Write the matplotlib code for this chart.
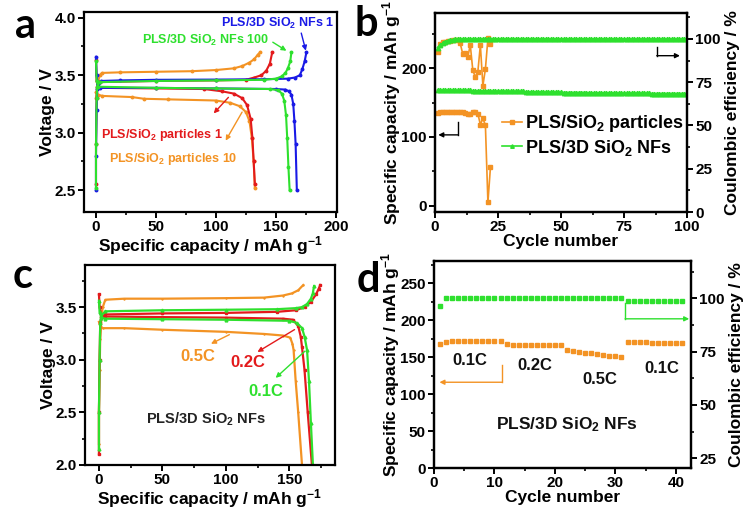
import matplotlib
matplotlib.use("Agg")
import matplotlib.pyplot as plt
from matplotlib.ticker import MultipleLocator

plt.rcParams['font.family'] = ['Liberation Sans', 'DejaVu Sans']
plt.rcParams['font.weight'] = 'bold'
plt.rcParams['axes.labelweight'] = 'bold'
plt.rcParams['mathtext.fontset'] = 'custom'
plt.rcParams['mathtext.rm'] = 'Liberation Sans:bold'
plt.rcParams['mathtext.bf'] = 'Liberation Sans:bold'
plt.rcParams['mathtext.it'] = 'Liberation Sans:bold'
plt.rcParams['mathtext.default'] = 'bf'

ORANGE = '#F39324'
GREEN = '#2EE02E'
RED = '#E31A1C'
BLUE = '#1A1AE6'

# ---------------- Panel a data ----------------
a_blue_ch_x = [0, 0, 0.5, 1, 2, 4, 20, 50, 100, 140, 160, 166, 170, 172, 174, 175.5]
a_blue_ch_y = [2.5, 2.8, 3.2, 3.38, 3.42, 3.45, 3.455, 3.46, 3.462, 3.465, 3.47, 3.48, 3.5, 3.55, 3.62, 3.7]
a_blue_dis_x = [0, 0.5, 1.5, 3, 50, 100, 150, 158, 161, 163, 164.5, 165.5, 166.5, 167.5]
a_blue_dis_y = [3.66, 3.5, 3.42, 3.39, 3.39, 3.385, 3.38, 3.375, 3.36, 3.33, 3.25, 3.1, 2.9, 2.5]
a_green_ch_x = [0, 0, 0.5, 1, 3, 50, 100, 140, 150, 155, 158, 160, 162, 163]
a_green_ch_y = [2.52, 2.9, 3.3, 3.4, 3.44, 3.45, 3.455, 3.46, 3.47, 3.49, 3.52, 3.56, 3.62, 3.7]
a_green_dis_x = [0, 0.5, 2, 50, 100, 145, 152, 155, 157, 158.5, 159.5, 160.5, 161.5]
a_green_dis_y = [3.62, 3.45, 3.4, 3.39, 3.385, 3.38, 3.37, 3.34, 3.28, 3.15, 2.95, 2.7, 2.5]
a_red_ch_x = [0, 0, 0.5, 1, 3, 50, 100, 125, 132, 138, 142, 145, 147]
a_red_ch_y = [2.55, 2.9, 3.3, 3.4, 3.44, 3.45, 3.455, 3.46, 3.48, 3.5, 3.54, 3.6, 3.7]
a_red_dis_x = [0, 0.5, 2, 50, 90, 105, 115, 122, 126, 129, 130.5, 131.5, 132.5]
a_red_dis_y = [3.63, 3.45, 3.39, 3.385, 3.38, 3.36, 3.34, 3.3, 3.24, 3.12, 2.95, 2.75, 2.55]
a_orange_ch_x = [0, 1, 2, 3, 5, 20, 50, 80, 100, 115, 122, 128, 132, 135, 137]
a_orange_ch_y = [3.3, 3.38, 3.45, 3.5, 3.52, 3.525, 3.53, 3.535, 3.545, 3.56, 3.58, 3.61, 3.64, 3.68, 3.7]
a_orange_dis_x = [0, 2, 5, 30, 40, 60, 100, 112, 120, 125, 128, 130, 131.5, 132.5]
a_orange_dis_y = [3.35, 3.33, 3.32, 3.31, 3.295, 3.29, 3.28, 3.26, 3.23, 3.18, 3.1, 2.95, 2.75, 2.52]

# ---------------- Panel b data ----------------
b_part_cycles = list(range(1, 23))
b_part_cap = [135, 136, 136, 136, 136, 136, 136, 136, 136, 136,
              136, 135, 133, 133, 136, 136, 134, 118, 127, 117, 5, 56]
b_part_ce = [92.5, 97, 98, 98.5, 99, 99, 99.5, 99.5, 99.5, 97.5,
             91.4, 92.1, 89.5, 96.5, 82, 78, 81, 96.5, 73, 82.6, 100.3, 96.9]
b_nfs_cycles = list(range(1, 101))
b_nfs_cap = [168, 168, 168, 168, 168, 168, 168, 167.5, 167.5, 168,
             167.5, 167.5, 167.5, 167.5, 167, 167, 167, 167, 167, 167,
             167, 166.5, 166.5, 166.5, 166.5, 166.5, 166.5, 166, 166, 166,
             166, 166, 166, 166, 166, 165.5, 165.5, 165.5, 165.5, 165.5,
             165.5, 165.5, 165, 165, 165, 165, 165, 165, 165, 165,
             164.5, 164.5, 164.5, 164.5, 164.5, 164.5, 164.5, 164.5, 164.5, 164.5,
             164, 164, 164, 164, 164, 164, 164, 164, 164, 164,
             164, 164, 163.5, 163.5, 163.5, 163.5, 163.5, 163.5, 163.5, 163.5,
             163.5, 163.5, 163.5, 163.5, 163.5, 163, 163, 163, 163, 163,
             163, 163, 163, 163, 163, 163, 163, 163, 163, 163]
b_nfs_ce = [95, 96.5, 97.5, 98.5, 99, 99.3, 99.5, 99.7, 99.8, 99.9] + [100] * 90

# ---------------- Panel c data ----------------
c_green_ch_x = [0, 0, 0.5, 1, 2, 5, 50, 100, 140, 155, 160, 164, 167, 168.5, 169.5]
c_green_ch_y = [2.15, 2.5, 3.0, 3.35, 3.42, 3.46, 3.47, 3.475, 3.48, 3.49, 3.5, 3.53, 3.58, 3.63, 3.7]
c_green_dis_x = [0, 0.5, 2, 5, 50, 100, 150, 156, 160, 162, 164, 165.5, 167, 168.6]
c_green_dis_y = [3.56, 3.45, 3.4, 3.39, 3.385, 3.38, 3.37, 3.35, 3.3, 3.22, 3.09, 2.8, 2.4, 2.0]
c_red_ch_x = [0, 0, 0.5, 1, 2, 5, 50, 100, 140, 155, 162, 167, 171, 173, 174.4]
c_red_ch_y = [2.1, 2.5, 3.0, 3.35, 3.4, 3.43, 3.44, 3.445, 3.455, 3.47, 3.5, 3.55, 3.62, 3.67, 3.71]
c_red_dis_x = [0, 0.5, 2, 5, 50, 100, 145, 153, 157, 159, 160, 162, 164.5, 167.8]
c_red_dis_y = [3.62, 3.5, 3.42, 3.41, 3.405, 3.4, 3.39, 3.38, 3.32, 3.22, 3.12, 2.9, 2.5, 2.0]
c_orange_ch_x = [0, 0, 0.5, 1, 2, 3, 5, 20, 50, 100, 130, 145, 152, 157, 161]
c_orange_ch_y = [2.2, 2.5, 2.9, 3.2, 3.4, 3.5, 3.57, 3.58, 3.58, 3.585, 3.59, 3.61, 3.63, 3.66, 3.71]
c_orange_dis_x = [0, 1, 3, 20, 50, 100, 130, 145, 150.7, 152.5, 153.4, 155, 157, 160]
c_orange_dis_y = [3.36, 3.32, 3.3, 3.3, 3.285, 3.265, 3.245, 3.23, 3.21, 3.15, 3.09, 2.8, 2.5, 2.0]

# ---------------- Panel d data ----------------
d_cycles = list(range(1, 42))
d_cap = [167.5, 170, 172, 172, 172, 172, 172, 172, 172, 172, 172,
         168, 167, 167, 167, 167, 167, 166, 166, 166, 166,
         159, 158, 157, 156, 155, 154, 153, 152, 151, 150,
         170, 170, 170, 170, 169, 169, 169, 169, 169, 169]
d_ce = [96.5] + [100] * 30 + [98.8] * 10

d_rate_labels = ['0.1C', '0.2C', '0.5C', '0.1C']

W, H = 747, 512
fig = plt.figure(figsize=(W / 100, H / 100), dpi=100)
all_axes = []


def add_ax(l, r, t, b):
    return fig.add_axes([l / W, 1 - b / H, (r - l) / W, (b - t) / H])


def style(ax):
    for s in ax.spines.values():
        s.set_linewidth(1.6)
    ax.tick_params(which='major', direction='out', length=4, width=1.4, labelsize=11, pad=2)
    ax.tick_params(which='minor', direction='out', length=2.5, width=1.2)
    all_axes.append(ax)


TL = 12.5  # axis label size

# ---------------- Panel a ----------------
ax = add_ax(84, 337, 12, 212)
style(ax)
for xs, ys, c in [(a_orange_ch_x, a_orange_ch_y, ORANGE), (a_orange_dis_x, a_orange_dis_y, ORANGE),
                  (a_red_ch_x, a_red_ch_y, RED), (a_red_dis_x, a_red_dis_y, RED),
                  (a_blue_ch_x, a_blue_ch_y, BLUE), (a_blue_dis_x, a_blue_dis_y, BLUE),
                  (a_green_ch_x, a_green_ch_y, GREEN), (a_green_dis_x, a_green_dis_y, GREEN)]:
    ax.plot(xs, ys, '-', color=c, lw=1.5, marker='o', ms=1.8)
ax.set_xlim(-10, 201)
ax.set_ylim(2.31, 4.05)
ax.xaxis.set_major_locator(MultipleLocator(50))
ax.xaxis.set_minor_locator(MultipleLocator(25))
ax.yaxis.set_major_locator(MultipleLocator(0.5))
ax.yaxis.set_minor_locator(MultipleLocator(0.25))
ax.yaxis.set_major_formatter(matplotlib.ticker.FormatStrFormatter('%.1f'))
ax.set_xlabel('Specific capacity / mAh g$^{-1}$', fontsize=TL, labelpad=0)
ax.set_ylabel('Voltage / V', fontsize=TL, labelpad=-0.5)
fs = 9
ax.text(151.8, 3.953, 'PLS/3D SiO$_2$ NFs 1', color=BLUE, fontsize=fs, ha='center', va='center')
ax.annotate('', xy=(175.6, 3.69), xytext=(170.6, 3.89),
            arrowprops=dict(arrowstyle='-|>', color=BLUE, lw=1, mutation_scale=7))
ax.text(91, 3.80, 'PLS/3D SiO$_2$ NFs 100', color=GREEN, fontsize=fs, ha='center', va='center')
ax.annotate('', xy=(160.8, 3.70), xytext=(145.5, 3.80),
            arrowprops=dict(arrowstyle='-|>', color=GREEN, lw=1, mutation_scale=7))
ax.text(54.7, 2.98, 'PLS/SiO$_2$ particles 1', color=RED, fontsize=fs, ha='center', va='center')
ax.annotate('', xy=(96.6, 3.15), xytext=(112, 3.325),
            arrowprops=dict(arrowstyle='-|>', color=RED, lw=1, mutation_scale=7))
ax.text(64.5, 2.77, 'PLS/SiO$_2$ particles 10', color=ORANGE, fontsize=fs, ha='center', va='center')
ax.annotate('', xy=(107, 2.91), xytext=(123, 3.2),
            arrowprops=dict(arrowstyle='-|>', color=ORANGE, lw=1, mutation_scale=7))

# ---------------- Panel b ----------------
ax = add_ax(435, 687, 13, 212)
style(ax)
ax2 = ax.twinx()
style(ax2)
l1, = ax.plot(b_part_cycles, b_part_cap, '-', color=ORANGE, lw=1.2, marker='s', ms=3.2)
l2, = ax.plot(b_nfs_cycles, b_nfs_cap, '-', color=GREEN, lw=1.2, marker='^', ms=3.2)
ax2.plot(b_part_cycles, b_part_ce, '-', color=ORANGE, lw=1.2, marker='s', ms=3.2)
ax2.plot(b_nfs_cycles, b_nfs_ce, '-', color=GREEN, lw=1.2, marker='^', ms=3.2)
ax.set_xlim(0, 100)
ax.set_ylim(-9, 280)
ax2.set_ylim(0, 115)
ax.xaxis.set_major_locator(MultipleLocator(25))
ax.xaxis.set_minor_locator(MultipleLocator(12.5))
ax.yaxis.set_major_locator(MultipleLocator(100))
ax.yaxis.set_minor_locator(MultipleLocator(50))
ax2.yaxis.set_major_locator(MultipleLocator(25))
ax2.yaxis.set_minor_locator(MultipleLocator(12.5))
ax.set_xlabel('Cycle number', fontsize=TL, labelpad=0)
ax.set_ylabel('Specific capacity / mAh g$^{-1}$', fontsize=TL, labelpad=-1)
ax2.set_ylabel('Coulombic efficiency / %', fontsize=TL, labelpad=3)
ax.legend([l1, l2], ['PLS/SiO$_2$ particles', 'PLS/3D SiO$_2$ NFs'], loc='upper left',
          bbox_to_anchor=(502 / W, 1 - 113 / H), bbox_transform=fig.transFigure,
          frameon=False, fontsize=13, handlelength=1.1, handletextpad=0.2,
          labelspacing=0.2, borderaxespad=0, borderpad=0, markerscale=0.8)
ax.plot([9.25, 9.25], [121, 103], color='black', lw=1)
ax.annotate('', xy=(1.3, 103), xytext=(9.25, 103),
            arrowprops=dict(arrowstyle='-|>', color='black', lw=1, mutation_scale=7,
                            shrinkA=0, shrinkB=0))
ax.plot([88, 88], [231, 218], color='black', lw=1)
ax.annotate('', xy=(97.2, 218), xytext=(88, 218),
            arrowprops=dict(arrowstyle='-|>', color='black', lw=1, mutation_scale=7,
                            shrinkA=0, shrinkB=0))

# ---------------- Panel c ----------------
ax = add_ax(85, 335, 265, 465)
style(ax)
for xs, ys, c, m in [(c_orange_ch_x, c_orange_ch_y, ORANGE, '+'), (c_orange_dis_x, c_orange_dis_y, ORANGE, '+'),
                     (c_red_ch_x, c_red_ch_y, RED, 's'), (c_red_dis_x, c_red_dis_y, RED, 's'),
                     (c_green_ch_x, c_green_ch_y, GREEN, '^'), (c_green_dis_x, c_green_dis_y, GREEN, '^')]:
    ax.plot(xs, ys, '-', color=c, lw=1.6, marker=m, ms=2)
ax.set_xlim(-11, 186)
ax.set_ylim(2.0, 3.9)
ax.xaxis.set_major_locator(MultipleLocator(50))
ax.xaxis.set_minor_locator(MultipleLocator(25))
ax.yaxis.set_major_locator(MultipleLocator(0.5))
ax.yaxis.set_minor_locator(MultipleLocator(0.25))
ax.yaxis.set_major_formatter(matplotlib.ticker.FormatStrFormatter('%.1f'))
ax.set_xlabel('Specific capacity / mAh g$^{-1}$', fontsize=TL, labelpad=0)
ax.set_ylabel('Voltage / V', fontsize=TL, labelpad=-0.5)
ax.text(77.7, 3.03, '0.5C', color=ORANGE, fontsize=12, ha='center', va='center')
ax.annotate('', xy=(86.3, 3.14), xytext=(104.7, 3.25),
            arrowprops=dict(arrowstyle='-|>', color=ORANGE, lw=1, mutation_scale=7))
ax.text(117, 2.97, '0.2C', color=RED, fontsize=12, ha='center', va='center')
ax.annotate('', xy=(123, 3.06), xytext=(156, 3.3),
            arrowprops=dict(arrowstyle='-|>', color=RED, lw=1, mutation_scale=7))
ax.text(131.7, 2.70, '0.1C', color=GREEN, fontsize=12, ha='center', va='center')
ax.annotate('', xy=(137.6, 2.81), xytext=(164, 3.1),
            arrowprops=dict(arrowstyle='-|>', color=GREEN, lw=1, mutation_scale=7))
ax.text(84, 2.43, 'PLS/3D SiO$_2$ NFs', color='#222222', fontsize=10.5, ha='center', va='center')

# ---------------- Panel d ----------------
ax = add_ax(434, 691, 261, 468)
style(ax)
ax2 = ax.twinx()
style(ax2)
ax.plot(d_cycles, d_cap, 's', color=ORANGE, ms=3.4, ls='none')
ax2.plot(d_cycles, d_ce, 's', color=GREEN, ms=3.4, ls='none')
ax.set_xlim(0, 42.5)
ax.set_ylim(0, 280)
ax2.set_ylim(20.4, 117.5)
ax.xaxis.set_major_locator(MultipleLocator(10))
ax.xaxis.set_minor_locator(MultipleLocator(5))
ax.yaxis.set_major_locator(MultipleLocator(50))
ax.yaxis.set_minor_locator(MultipleLocator(25))
ax2.yaxis.set_major_locator(MultipleLocator(25))
ax2.yaxis.set_minor_locator(MultipleLocator(12.5))
ax.set_xlabel('Cycle number', fontsize=TL, labelpad=0)
ax.set_ylabel('Specific capacity / mAh g$^{-1}$', fontsize=TL, labelpad=-1)
ax2.set_ylabel('Coulombic efficiency / %', fontsize=TL, labelpad=3)
for (x, y), lab in zip([(6, 145), (16.7, 138), (27.4, 120), (37.7, 134)], d_rate_labels):
    ax.text(x, y, lab, fontsize=12, ha='center', va='center', color='#111111')
ax.text(22, 58, 'PLS/3D SiO$_2$ NFs', fontsize=12.5, ha='center', va='center', color='#111111')
ax.plot([11.3, 11.3], [139.6, 116], color=ORANGE, lw=1)
ax.annotate('', xy=(0.9, 116), xytext=(11.3, 116),
            arrowprops=dict(arrowstyle='-|>', color=ORANGE, lw=1, mutation_scale=7,
                            shrinkA=0, shrinkB=0))
ax.plot([31.6, 31.6], [223, 201.8], color=GREEN, lw=1)
ax.annotate('', xy=(42.2, 201.8), xytext=(31.6, 201.8),
            arrowprops=dict(arrowstyle='-|>', color=GREEN, lw=1, mutation_scale=7,
                            shrinkA=0, shrinkB=0))

# make every tick label bold
for a in all_axes:
    for lab in a.get_xticklabels() + a.get_yticklabels():
        lab.set_fontweight('bold')

# panel letters
for x, y, t in [(25, 26, 'a'), (366, 24, 'b'), (23, 276, 'c'), (368, 280, 'd')]:
    fig.text(x / W, 1 - y / H, t, fontsize=30, fontweight='bold', family='Lato',
             ha='center', va='center')

fig.savefig('out.png', dpi=100)
